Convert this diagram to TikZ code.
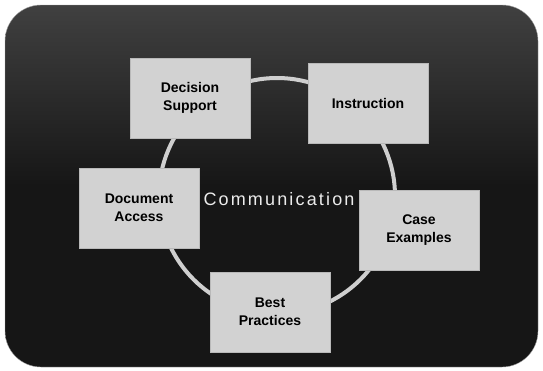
\documentclass[tikz,border=0pt]{standalone}
\usepackage{fontspec}
\setmainfont{Liberation Sans}
\newfontfamily\commfont[LetterSpace=12]{Liberation Sans}
\usetikzlibrary{backgrounds}
\definecolor{panel}{HTML}{161616}
\definecolor{paneltop}{HTML}{404040}
\definecolor{tilefill}{HTML}{D2D2D2}
\definecolor{ringc}{HTML}{CFCFCF}
\tikzset{
  panelbox/.style={top color=paneltop,bottom color=panel,middle color=panel,draw=gray!70,rounded corners=36pt},
  tile/.style={fill=tilefill,draw=gray!55,minimum width=120pt,minimum height=80pt,align=center,inner sep=0pt,font=\fontsize{14}{18}\selectfont\bfseries},
  ring/.style={circle,draw=ringc,line width=4pt,minimum size=236pt,inner sep=0pt},
}

\begin{document}
\begin{tikzpicture}[x=1pt,y=-1pt]
\useasboundingbox (0,0) rectangle (543,370);
\draw[panelbox] (5,5) rectangle (538,367);
\node[ring] (ring) at (277,196) {};
\node[tile] (decision) at (190,98) {Decision\\Support};
\node[tile] (instruction) at (368,103) {Instruction};
\node[tile] (docaccess) at (139,208) {Document\\Access};
\node[tile] (caseex) at (419,230) {Case\\Examples};
\node[tile] (best) at (270,312) {Best\\Practices};
\node[text=gray!15,font=\commfont\fontsize{18}{20}\selectfont] (comm) at (279,199) {Communication};
\end{tikzpicture}
\end{document}
